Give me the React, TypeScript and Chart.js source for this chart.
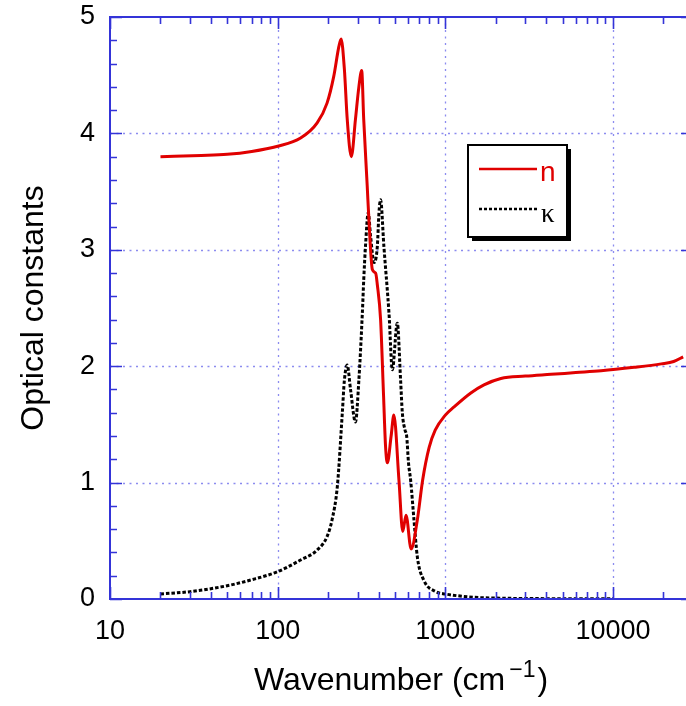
import React, { useEffect, useRef } from "react";
import { Chart, registerables } from "chart.js";

Chart.register(...registerables);

// ---- Data ----
const nWavenumber = [20, 35, 50, 70, 100, 137, 172, 197, 216, 232, 239, 250, 260, 275, 291, 305, 317, 326, 342, 350, 367, 384, 393, 411, 428, 440, 451, 475, 493, 529, 557, 583, 625, 681, 732, 800, 870, 1000, 1127, 1419, 1700, 2144, 3000, 4266, 6000, 8490, 13370, 19400, 23000, 26200];
const nValues = [3.80, 3.81, 3.82, 3.845, 3.89, 3.96, 4.09, 4.26, 4.49, 4.75, 4.81, 4.55, 4.12, 3.80, 4.12, 4.40, 4.54, 4.12, 3.55, 3.26, 2.83, 2.80, 2.70, 2.40, 1.75, 1.31, 1.17, 1.40, 1.58, 1.02, 0.58, 0.72, 0.43, 0.68, 1.02, 1.30, 1.45, 1.58, 1.65, 1.77, 1.84, 1.895, 1.915, 1.93, 1.945, 1.96, 1.99, 2.02, 2.04, 2.08];

const kWavenumber = [20, 30, 50, 69, 100, 137, 172, 197, 211, 227, 243, 250, 260, 272, 291, 305, 320, 326, 334, 347, 358, 376, 393, 402, 411, 430, 461, 483, 517, 541, 554, 575, 588, 603, 621, 650, 681, 745, 877, 1000, 1483, 2348, 4000, 10000];
const kValues = [0.043, 0.063, 0.114, 0.163, 0.235, 0.335, 0.42, 0.536, 0.68, 0.97, 1.60, 1.88, 2.01, 1.80, 1.52, 1.88, 2.46, 2.74, 3.03, 3.32, 3.12, 2.89, 3.03, 3.32, 3.43, 3.03, 2.46, 1.97, 2.37, 1.88, 1.60, 1.45, 1.40, 1.17, 1.02, 0.68, 0.36, 0.16, 0.063, 0.043, 0.015, 0.006, 0.003, 0.002];

const seriesLabels = ["n", "κ"];
const xMin = 10;
const xMax = 30000;
const yMin = 0;
const yMax = 5;
const xGridValues = [100, 1000, 10000];
const yGridValues = [1, 2, 3, 4];
const xTitleMain = "Wavenumber (cm";
const xTitleSup = "\u22121";
const xTitleEnd = ")";
const yTitle = "Optical constants";

// ---- Styles ----
const AXIS_BLUE = "#3434d8";
const GRID_COLOR = "rgba(110,110,235,0.8)";
const RED = "#e00000";
const SANS = "'Liberation Sans', Arial, sans-serif";
const SERIF = "'Liberation Serif', 'Times New Roman', serif";

const isPow10 = (v: number) => Math.abs(Math.log10(v) - Math.round(Math.log10(v))) < 1e-9;

const decorPlugin = {
  id: "decor",
  beforeDatasetsDraw(chart: any) {
    const { ctx, chartArea: a, scales } = chart;
    const xs = scales.x;
    const ys = scales.y;
    ctx.save();
    ctx.strokeStyle = GRID_COLOR;
    ctx.lineWidth = 1.3;
    ctx.setLineDash([2, 4.5]);
    for (const v of xGridValues) {
      const px = Math.round(xs.getPixelForValue(v)) + 0.5;
      ctx.beginPath();
      ctx.moveTo(px, a.top);
      ctx.lineTo(px, a.bottom);
      ctx.stroke();
    }
    for (const v of yGridValues) {
      const py = Math.round(ys.getPixelForValue(v)) + 0.5;
      ctx.beginPath();
      ctx.moveTo(a.left, py);
      ctx.lineTo(a.right, py);
      ctx.stroke();
    }
    ctx.restore();
  },
  afterDatasetsDraw(chart: any) {
    const { ctx, chartArea: a, scales } = chart;
    const xs = scales.x;
    const ys = scales.y;
    ctx.save();
    ctx.setLineDash([]);
    ctx.strokeStyle = AXIS_BLUE;
    ctx.lineWidth = 2;
    // frame
    ctx.beginPath();
    ctx.rect(a.left, a.top, a.right - a.left, a.bottom - a.top);
    ctx.stroke();

    // x ticks (inward, top and bottom)
    ctx.lineWidth = 1.6;
    const e0 = Math.floor(Math.log10(xMin));
    const e1 = Math.ceil(Math.log10(xMax));
    for (let e = e0; e <= e1; e++) {
      for (let d = 1; d <= 9; d++) {
        const v = d * Math.pow(10, e);
        if (v < xMin || v > xMax) continue;
        const px = Math.round(xs.getPixelForValue(v)) + 0.5;
        const len = d === 1 ? 12 : 7;
        ctx.beginPath();
        ctx.moveTo(px, a.bottom);
        ctx.lineTo(px, a.bottom - len);
        ctx.moveTo(px, a.top);
        ctx.lineTo(px, a.top + len);
        ctx.stroke();
      }
    }
    // y ticks (inward, left and right)
    for (let i = 0; i <= 25; i++) {
      const v = i * 0.2;
      const py = Math.round(ys.getPixelForValue(v)) + 0.5;
      const len = i % 5 === 0 ? 12 : 7;
      ctx.beginPath();
      ctx.moveTo(a.left, py);
      ctx.lineTo(a.left + len, py);
      ctx.moveTo(a.right, py);
      ctx.lineTo(a.right - len, py);
      ctx.stroke();
    }

    // legend
    const lx = 468, ly = 145, lw = 99, lh = 92;
    ctx.fillStyle = "#000";
    ctx.fillRect(lx + 4, ly + 4, lw, lh);
    ctx.fillStyle = "#fff";
    ctx.fillRect(lx, ly, lw, lh);
    ctx.strokeStyle = "#000";
    ctx.lineWidth = 2;
    ctx.strokeRect(lx, ly, lw, lh);

    const ds0 = chart.data.datasets[0];
    const ds1 = chart.data.datasets[1];
    ctx.strokeStyle = ds0.borderColor;
    ctx.lineWidth = 2.5;
    ctx.beginPath();
    ctx.moveTo(479, 169);
    ctx.lineTo(537, 169);
    ctx.stroke();
    ctx.fillStyle = ds0.borderColor;
    ctx.font = `28px ${SANS}`;
    ctx.textAlign = "left";
    ctx.textBaseline = "alphabetic";
    ctx.fillText(seriesLabels[0], 540, 181);

    ctx.strokeStyle = ds1.borderColor;
    ctx.lineWidth = 2.5;
    ctx.setLineDash([3, 2]);
    ctx.beginPath();
    ctx.moveTo(479, 209);
    ctx.lineTo(537, 209);
    ctx.stroke();
    ctx.setLineDash([]);
    ctx.fillStyle = "#000";
    ctx.font = `27px ${SERIF}`;
    ctx.fillText(seriesLabels[1], 541, 222);

    // x title with superscript
    ctx.fillStyle = "#000";
    ctx.font = `32px ${SANS}`;
    const mainW = ctx.measureText(xTitleMain).width;
    ctx.font = `23px ${SANS}`;
    const supW = ctx.measureText(xTitleSup).width;
    ctx.font = `32px ${SANS}`;
    const endW = ctx.measureText(xTitleEnd).width;
    const gap = 4;
    const total = mainW + gap + supW + 2 + endW;
    let tx = 401 - total / 2;
    const base = 690;
    ctx.fillText(xTitleMain, tx, base);
    tx += mainW + gap;
    ctx.font = `23px ${SANS}`;
    ctx.fillText(xTitleSup, tx, base - 13);
    tx += supW + 2;
    ctx.font = `32px ${SANS}`;
    ctx.fillText(xTitleEnd, tx, base);

    // y title
    ctx.save();
    ctx.translate(43, (a.top + a.bottom) / 2);
    ctx.rotate(-Math.PI / 2);
    ctx.textAlign = "center";
    ctx.font = `32px ${SANS}`;
    ctx.fillText(yTitle, 0, 0);
    ctx.restore();

    ctx.restore();
  },
};

export default function App() {
  const canvasRef = useRef<HTMLCanvasElement | null>(null);

  useEffect(() => {
    const canvas = canvasRef.current;
    if (!canvas) return;
    const chart = new Chart(canvas, {
      type: "line",
      data: {
        datasets: [
          {
            label: seriesLabels[0],
            data: nWavenumber.map((x, i) => ({ x, y: nValues[i] })),
            borderColor: RED,
            borderWidth: 3,
            pointRadius: 0,
            fill: false,
            cubicInterpolationMode: "monotone",
          },
          {
            label: seriesLabels[1],
            data: kWavenumber.map((x, i) => ({ x, y: kValues[i] })),
            borderColor: "#000000",
            borderWidth: 3,
            borderDash: [3.5, 2],
            pointRadius: 0,
            fill: false,
            cubicInterpolationMode: "monotone",
          },
        ],
      },
      options: {
        responsive: false,
        animation: false,
        devicePixelRatio: 1,
        layout: { padding: { top: 17, right: 7, left: 0, bottom: 0 } },
        plugins: {
          legend: { display: false },
          tooltip: { enabled: false },
        },
        scales: {
          x: {
            type: "logarithmic",
            min: xMin,
            max: xMax,
            grid: { display: false, drawTicks: false },
            border: { display: false },
            ticks: {
              autoSkip: false,
              maxRotation: 0,
              minRotation: 0,
              padding: 16,
              color: "#000",
              font: { family: SANS, size: 27 },
              callback: (v: any) => (isPow10(Number(v)) ? String(Math.round(Number(v))) : ""),
            },
            afterFit: (scale: any) => {
              scale.height = 107;
              scale.paddingLeft = 0;
              scale.paddingRight = 0;
            },
          },
          y: {
            type: "linear",
            min: yMin,
            max: yMax,
            grid: { display: false, drawTicks: false },
            border: { display: false },
            ticks: {
              stepSize: 1,
              padding: 15,
              color: "#000",
              font: { family: SANS, size: 27 },
            },
            afterFit: (scale: any) => {
              scale.width = 110;
              scale.paddingTop = 0;
              scale.paddingBottom = 0;
            },
          },
        },
      },
      plugins: [decorPlugin],
    } as any);
    return () => chart.destroy();
  }, []);

  return (
    <div
      style={{
        position: "fixed",
        left: 0,
        top: 0,
        width: 686,
        height: 706,
        overflow: "hidden",
        background: "#fff",
      }}
    >
      <canvas ref={canvasRef} width={700} height={706} style={{ width: 700, height: 706, display: "block" }} />
    </div>
  );
}
